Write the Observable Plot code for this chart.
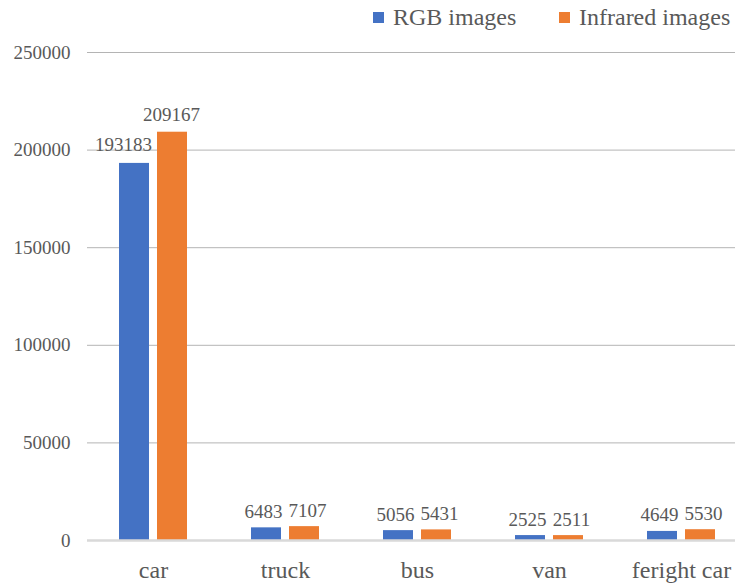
<!DOCTYPE html>
<html>
<head>
<meta charset="utf-8">
<script src="https://cdn.jsdelivr.net/npm/d3@7"></script>
<script src="https://cdn.jsdelivr.net/npm/@observablehq/plot@0.6"></script>
<style>
  html, body { margin: 0; padding: 0; background: #fff; }
  #wrap { width: 735px; height: 584px; position: relative; overflow: hidden; font-family: "Liberation Serif", "Times New Roman", serif; }
  #legend { position: relative; height: 34px; width: 735px; color: #595959; font-size: 24px; line-height: 24px; }
  .li { position: absolute; top: 5px; white-space: nowrap; }
  .sw { display: inline-block; width: 11px; height: 11px; vertical-align: top; margin-top: 7px; margin-right: 9px; }
  #chart svg, #chart svg text { font-family: "Liberation Serif", "Times New Roman", serif !important; }
  #chart svg { overflow: visible; background: #fff; }
</style>
</head>
<body>
<div id="wrap">
  <div id="legend"></div>
  <div id="chart"></div>
</div>
<script>
const categories = ["car", "truck", "bus", "van", "feright car"];
const rgbValues = [193183, 6483, 5056, 2525, 4649];
const infraredValues = [209167, 7107, 5431, 2511, 5530];
const seriesNames = ["RGB images", "Infrared images"];
const seriesColors = ["#4472C4", "#ED7D31"];
const yTicks = [0, 50000, 100000, 150000, 200000, 250000];

const rgbRows = categories.map((c, i) => ({category: c, series: seriesNames[0], value: rgbValues[i]}));
const irRows = categories.map((c, i) => ({category: c, series: seriesNames[1], value: infraredValues[i]}));

// legend
const legend = document.getElementById("legend");
const legendLefts = [373, 559];
seriesNames.forEach((name, i) => {
  const item = document.createElement("div");
  item.className = "li";
  item.style.left = legendLefts[i] + "px";
  const sw = document.createElement("span");
  sw.className = "sw";
  sw.style.background = seriesColors[i];
  item.appendChild(sw);
  item.appendChild(document.createTextNode(name));
  legend.appendChild(item);
});

const textColor = "#595959";
const isCar = d => d.category === "car";
const chart = Plot.plot({
  width: 735,
  height: 550,
  marginTop: 18,
  marginBottom: 44,
  marginLeft: 87,
  marginRight: 0,
  x: {domain: categories, range: [87, 747], padding: 0},
  y: {domain: [0, 250000]},
  marks: [
    Plot.ruleY(yTicks.slice(1), {stroke: "#b4b4b4", strokeWidth: 1}),
    Plot.barY(rgbRows, {x: "category", y: "value", fill: seriesColors[0], insetLeft: 32, insetRight: 70}),
    Plot.barY(irRows, {x: "category", y: "value", fill: seriesColors[1], insetLeft: 70, insetRight: 32}),
    Plot.ruleY([0], {stroke: "#d9d9d9", strokeWidth: 2.5}),
    Plot.text(rgbRows.filter(d => !isCar(d)), {x: "category", y: "value", text: d => String(d.value), dx: -22, dy: -10, lineAnchor: "bottom", fontSize: 19, fill: textColor}),
    Plot.text(rgbRows.filter(isCar), {x: "category", y: "value", text: d => String(d.value), dx: -30, dy: -12, lineAnchor: "bottom", fontSize: 19, fill: textColor}),
    Plot.text(irRows.filter(d => !isCar(d)), {x: "category", y: "value", text: d => String(d.value), dx: 22, dy: -10, lineAnchor: "bottom", fontSize: 19, fill: textColor}),
    Plot.text(irRows.filter(isCar), {x: "category", y: "value", text: d => String(d.value), dx: 18, dy: -11, lineAnchor: "bottom", fontSize: 19, fill: textColor}),
    Plot.axisY(yTicks, {anchor: "left", tickSize: 0, tickPadding: 17, fontSize: 19, fill: textColor, label: null, tickFormat: d => String(d)}),
    Plot.axisX({anchor: "bottom", tickSize: 0, tickPadding: 20, fontSize: 24, fill: textColor, label: null})
  ]
});
document.getElementById("chart").appendChild(chart);
</script>
</body>
</html>
